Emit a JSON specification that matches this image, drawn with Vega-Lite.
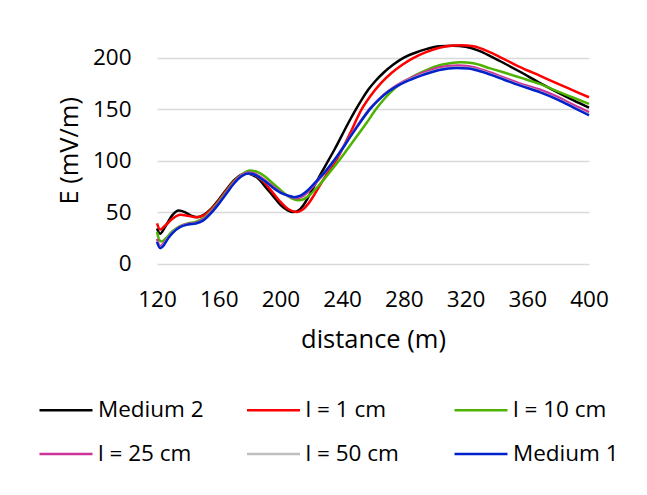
{
  "$schema": "https://vega.github.io/schema/vega-lite/v6.json",
  "autosize": {"type": "none"},
  "padding": {"left": 157, "top": 37, "right": 58, "bottom": 231},
  "width": 432,
  "height": 226.6,
  "background": "white",
  "config": {
    "view": {"stroke": null},
    "font": "Open Sans",
    "axis": {"labelFont": "Open Sans", "titleFont": "Open Sans", "labelColor": "#000000", "titleColor": "#000000", "titleFontWeight": "normal"},
    "legend": {"labelFont": "Open Sans", "labelColor": "#000000"}
  },
  "datasets": {
    "curves": [
      {"s": "Medium 2", "d": 120, "E": 34}, {"s": "Medium 2", "d": 122, "E": 29}, {"s": "Medium 2", "d": 125, "E": 35}, {"s": "Medium 2", "d": 130, "E": 47}, {"s": "Medium 2", "d": 134, "E": 51.5}, {"s": "Medium 2", "d": 138, "E": 50}, {"s": "Medium 2", "d": 142, "E": 46.5}, {"s": "Medium 2", "d": 146, "E": 45}, {"s": "Medium 2", "d": 150, "E": 47}, {"s": "Medium 2", "d": 155, "E": 53}, {"s": "Medium 2", "d": 160, "E": 62}, {"s": "Medium 2", "d": 165, "E": 72}, {"s": "Medium 2", "d": 170, "E": 81}, {"s": "Medium 2", "d": 175, "E": 86.5}, {"s": "Medium 2", "d": 178, "E": 87.5}, {"s": "Medium 2", "d": 182, "E": 86}, {"s": "Medium 2", "d": 186, "E": 82}, {"s": "Medium 2", "d": 190, "E": 75}, {"s": "Medium 2", "d": 195, "E": 66}, {"s": "Medium 2", "d": 200, "E": 57}, {"s": "Medium 2", "d": 205, "E": 51.5}, {"s": "Medium 2", "d": 208, "E": 50}, {"s": "Medium 2", "d": 211, "E": 51}, {"s": "Medium 2", "d": 215, "E": 57}, {"s": "Medium 2", "d": 220, "E": 70}, {"s": "Medium 2", "d": 225, "E": 84}, {"s": "Medium 2", "d": 231, "E": 100}, {"s": "Medium 2", "d": 235.5, "E": 112}, {"s": "Medium 2", "d": 240, "E": 125}, {"s": "Medium 2", "d": 244, "E": 136.5}, {"s": "Medium 2", "d": 249, "E": 150}, {"s": "Medium 2", "d": 253, "E": 160}, {"s": "Medium 2", "d": 257, "E": 169}, {"s": "Medium 2", "d": 262, "E": 178}, {"s": "Medium 2", "d": 267, "E": 185.5}, {"s": "Medium 2", "d": 273, "E": 193}, {"s": "Medium 2", "d": 280, "E": 200}, {"s": "Medium 2", "d": 287, "E": 204.5}, {"s": "Medium 2", "d": 295, "E": 208.5}, {"s": "Medium 2", "d": 303, "E": 211}, {"s": "Medium 2", "d": 312, "E": 211.5}, {"s": "Medium 2", "d": 320, "E": 210.5}, {"s": "Medium 2", "d": 328, "E": 207}, {"s": "Medium 2", "d": 336, "E": 201.5}, {"s": "Medium 2", "d": 345, "E": 194.5}, {"s": "Medium 2", "d": 355, "E": 186.5}, {"s": "Medium 2", "d": 368, "E": 175.5}, {"s": "Medium 2", "d": 380, "E": 166}, {"s": "Medium 2", "d": 390, "E": 158.5}, {"s": "Medium 2", "d": 400, "E": 151.5},

      {"s": "l = 1 cm", "d": 120, "E": 39}, {"s": "l = 1 cm", "d": 122, "E": 33}, {"s": "l = 1 cm", "d": 125, "E": 36.5}, {"s": "l = 1 cm", "d": 130, "E": 43.5}, {"s": "l = 1 cm", "d": 135, "E": 47.5}, {"s": "l = 1 cm", "d": 140, "E": 46.5}, {"s": "l = 1 cm", "d": 145, "E": 45}, {"s": "l = 1 cm", "d": 150, "E": 46.5}, {"s": "l = 1 cm", "d": 155, "E": 52.5}, {"s": "l = 1 cm", "d": 160, "E": 61}, {"s": "l = 1 cm", "d": 165, "E": 71}, {"s": "l = 1 cm", "d": 170, "E": 80}, {"s": "l = 1 cm", "d": 175, "E": 86}, {"s": "l = 1 cm", "d": 178, "E": 87.5}, {"s": "l = 1 cm", "d": 182, "E": 87}, {"s": "l = 1 cm", "d": 186, "E": 83.5}, {"s": "l = 1 cm", "d": 190, "E": 78}, {"s": "l = 1 cm", "d": 195, "E": 69}, {"s": "l = 1 cm", "d": 200, "E": 60}, {"s": "l = 1 cm", "d": 205, "E": 53}, {"s": "l = 1 cm", "d": 210.5, "E": 50}, {"s": "l = 1 cm", "d": 214, "E": 52}, {"s": "l = 1 cm", "d": 218, "E": 58}, {"s": "l = 1 cm", "d": 222, "E": 67}, {"s": "l = 1 cm", "d": 226, "E": 77}, {"s": "l = 1 cm", "d": 231, "E": 89}, {"s": "l = 1 cm", "d": 236, "E": 100}, {"s": "l = 1 cm", "d": 239.7, "E": 110}, {"s": "l = 1 cm", "d": 245, "E": 126}, {"s": "l = 1 cm", "d": 252.7, "E": 150}, {"s": "l = 1 cm", "d": 258, "E": 162}, {"s": "l = 1 cm", "d": 265, "E": 175}, {"s": "l = 1 cm", "d": 272, "E": 185}, {"s": "l = 1 cm", "d": 279, "E": 193}, {"s": "l = 1 cm", "d": 286, "E": 199.5}, {"s": "l = 1 cm", "d": 294, "E": 205}, {"s": "l = 1 cm", "d": 303, "E": 209.5}, {"s": "l = 1 cm", "d": 310, "E": 211.5}, {"s": "l = 1 cm", "d": 317, "E": 212}, {"s": "l = 1 cm", "d": 325, "E": 211}, {"s": "l = 1 cm", "d": 336, "E": 205}, {"s": "l = 1 cm", "d": 345, "E": 198.5}, {"s": "l = 1 cm", "d": 355, "E": 191}, {"s": "l = 1 cm", "d": 368, "E": 182.5}, {"s": "l = 1 cm", "d": 380, "E": 174.5}, {"s": "l = 1 cm", "d": 390, "E": 168}, {"s": "l = 1 cm", "d": 400, "E": 161.5},

      {"s": "l = 10 cm", "d": 120, "E": 31}, {"s": "l = 10 cm", "d": 121.5, "E": 23}, {"s": "l = 10 cm", "d": 123, "E": 21.5}, {"s": "l = 10 cm", "d": 126, "E": 25}, {"s": "l = 10 cm", "d": 130, "E": 31.5}, {"s": "l = 10 cm", "d": 135, "E": 36.5}, {"s": "l = 10 cm", "d": 140, "E": 39}, {"s": "l = 10 cm", "d": 145, "E": 40.5}, {"s": "l = 10 cm", "d": 150, "E": 44}, {"s": "l = 10 cm", "d": 155, "E": 51}, {"s": "l = 10 cm", "d": 160, "E": 60}, {"s": "l = 10 cm", "d": 165, "E": 70}, {"s": "l = 10 cm", "d": 170, "E": 79.5}, {"s": "l = 10 cm", "d": 175, "E": 86.5}, {"s": "l = 10 cm", "d": 180, "E": 90.5}, {"s": "l = 10 cm", "d": 185, "E": 89}, {"s": "l = 10 cm", "d": 190, "E": 84.5}, {"s": "l = 10 cm", "d": 195, "E": 78}, {"s": "l = 10 cm", "d": 200, "E": 71.5}, {"s": "l = 10 cm", "d": 205, "E": 65.5}, {"s": "l = 10 cm", "d": 211.5, "E": 61.5}, {"s": "l = 10 cm", "d": 215, "E": 62.5}, {"s": "l = 10 cm", "d": 220, "E": 68}, {"s": "l = 10 cm", "d": 225, "E": 76}, {"s": "l = 10 cm", "d": 230, "E": 85}, {"s": "l = 10 cm", "d": 238, "E": 100}, {"s": "l = 10 cm", "d": 242.9, "E": 110}, {"s": "l = 10 cm", "d": 250, "E": 124.5}, {"s": "l = 10 cm", "d": 256, "E": 137}, {"s": "l = 10 cm", "d": 262, "E": 150}, {"s": "l = 10 cm", "d": 268, "E": 161}, {"s": "l = 10 cm", "d": 274, "E": 170}, {"s": "l = 10 cm", "d": 280, "E": 176.5}, {"s": "l = 10 cm", "d": 287, "E": 182.5}, {"s": "l = 10 cm", "d": 295, "E": 188}, {"s": "l = 10 cm", "d": 303, "E": 192.5}, {"s": "l = 10 cm", "d": 310, "E": 194.5}, {"s": "l = 10 cm", "d": 317, "E": 195.5}, {"s": "l = 10 cm", "d": 325, "E": 194.5}, {"s": "l = 10 cm", "d": 336, "E": 189.5}, {"s": "l = 10 cm", "d": 345, "E": 185.5}, {"s": "l = 10 cm", "d": 355, "E": 180.8}, {"s": "l = 10 cm", "d": 368, "E": 174.5}, {"s": "l = 10 cm", "d": 380, "E": 167}, {"s": "l = 10 cm", "d": 390, "E": 161}, {"s": "l = 10 cm", "d": 400, "E": 155},

      {"s": "l = 25 cm", "d": 120, "E": 24}, {"s": "l = 25 cm", "d": 122, "E": 17}, {"s": "l = 25 cm", "d": 125, "E": 21}, {"s": "l = 25 cm", "d": 130, "E": 30}, {"s": "l = 25 cm", "d": 135, "E": 36}, {"s": "l = 25 cm", "d": 140, "E": 38.5}, {"s": "l = 25 cm", "d": 145, "E": 39.5}, {"s": "l = 25 cm", "d": 150, "E": 43}, {"s": "l = 25 cm", "d": 155, "E": 50}, {"s": "l = 25 cm", "d": 160, "E": 59}, {"s": "l = 25 cm", "d": 165, "E": 69}, {"s": "l = 25 cm", "d": 170, "E": 79}, {"s": "l = 25 cm", "d": 175, "E": 86}, {"s": "l = 25 cm", "d": 179, "E": 88.5}, {"s": "l = 25 cm", "d": 183, "E": 87.5}, {"s": "l = 25 cm", "d": 187, "E": 84}, {"s": "l = 25 cm", "d": 190, "E": 81}, {"s": "l = 25 cm", "d": 195, "E": 75}, {"s": "l = 25 cm", "d": 200, "E": 69.5}, {"s": "l = 25 cm", "d": 205, "E": 65.5}, {"s": "l = 25 cm", "d": 210, "E": 63.5}, {"s": "l = 25 cm", "d": 214, "E": 65}, {"s": "l = 25 cm", "d": 218, "E": 70}, {"s": "l = 25 cm", "d": 224, "E": 80}, {"s": "l = 25 cm", "d": 230, "E": 90.5}, {"s": "l = 25 cm", "d": 235, "E": 100.5}, {"s": "l = 25 cm", "d": 239.5, "E": 110.5}, {"s": "l = 25 cm", "d": 245, "E": 123}, {"s": "l = 25 cm", "d": 250, "E": 134}, {"s": "l = 25 cm", "d": 258, "E": 150.5}, {"s": "l = 25 cm", "d": 264, "E": 160}, {"s": "l = 25 cm", "d": 270, "E": 167.5}, {"s": "l = 25 cm", "d": 277, "E": 174.5}, {"s": "l = 25 cm", "d": 285, "E": 180.5}, {"s": "l = 25 cm", "d": 293, "E": 185.5}, {"s": "l = 25 cm", "d": 303, "E": 190.5}, {"s": "l = 25 cm", "d": 315, "E": 192.3}, {"s": "l = 25 cm", "d": 322, "E": 191.5}, {"s": "l = 25 cm", "d": 330, "E": 188.5}, {"s": "l = 25 cm", "d": 336, "E": 185.5}, {"s": "l = 25 cm", "d": 345, "E": 180.5}, {"s": "l = 25 cm", "d": 355, "E": 175}, {"s": "l = 25 cm", "d": 368, "E": 169}, {"s": "l = 25 cm", "d": 380, "E": 161.5}, {"s": "l = 25 cm", "d": 390, "E": 154}, {"s": "l = 25 cm", "d": 400, "E": 147},

      {"s": "l = 50 cm", "d": 120, "E": 21.5}, {"s": "l = 50 cm", "d": 122, "E": 15.5}, {"s": "l = 50 cm", "d": 124, "E": 17.5}, {"s": "l = 50 cm", "d": 127, "E": 24.5}, {"s": "l = 50 cm", "d": 130, "E": 30}, {"s": "l = 50 cm", "d": 135, "E": 35.5}, {"s": "l = 50 cm", "d": 140, "E": 38}, {"s": "l = 50 cm", "d": 145, "E": 39}, {"s": "l = 50 cm", "d": 150, "E": 42}, {"s": "l = 50 cm", "d": 155, "E": 49}, {"s": "l = 50 cm", "d": 160, "E": 58}, {"s": "l = 50 cm", "d": 165, "E": 68}, {"s": "l = 50 cm", "d": 170, "E": 78}, {"s": "l = 50 cm", "d": 175, "E": 85}, {"s": "l = 50 cm", "d": 179, "E": 87.5}, {"s": "l = 50 cm", "d": 183, "E": 86.5}, {"s": "l = 50 cm", "d": 187, "E": 83}, {"s": "l = 50 cm", "d": 190, "E": 80}, {"s": "l = 50 cm", "d": 195, "E": 74}, {"s": "l = 50 cm", "d": 200, "E": 69}, {"s": "l = 50 cm", "d": 205, "E": 66}, {"s": "l = 50 cm", "d": 209, "E": 64.5}, {"s": "l = 50 cm", "d": 213, "E": 66}, {"s": "l = 50 cm", "d": 218, "E": 71.5}, {"s": "l = 50 cm", "d": 224, "E": 81}, {"s": "l = 50 cm", "d": 230, "E": 91}, {"s": "l = 50 cm", "d": 235, "E": 100.5}, {"s": "l = 50 cm", "d": 239.5, "E": 110}, {"s": "l = 50 cm", "d": 245, "E": 122.5}, {"s": "l = 50 cm", "d": 250, "E": 133.5}, {"s": "l = 50 cm", "d": 258, "E": 150}, {"s": "l = 50 cm", "d": 264, "E": 159.5}, {"s": "l = 50 cm", "d": 270, "E": 167}, {"s": "l = 50 cm", "d": 277, "E": 173.5}, {"s": "l = 50 cm", "d": 285, "E": 179.5}, {"s": "l = 50 cm", "d": 293, "E": 184}, {"s": "l = 50 cm", "d": 303, "E": 188.5}, {"s": "l = 50 cm", "d": 314, "E": 190.5}, {"s": "l = 50 cm", "d": 322, "E": 190}, {"s": "l = 50 cm", "d": 330, "E": 187}, {"s": "l = 50 cm", "d": 336, "E": 184}, {"s": "l = 50 cm", "d": 345, "E": 179}, {"s": "l = 50 cm", "d": 355, "E": 173.5}, {"s": "l = 50 cm", "d": 368, "E": 167}, {"s": "l = 50 cm", "d": 380, "E": 159.5}, {"s": "l = 50 cm", "d": 390, "E": 152}, {"s": "l = 50 cm", "d": 400, "E": 144.5},

      {"s": "Medium 1", "d": 120, "E": 21}, {"s": "Medium 1", "d": 122, "E": 15}, {"s": "Medium 1", "d": 124, "E": 17}, {"s": "Medium 1", "d": 127, "E": 24}, {"s": "Medium 1", "d": 130, "E": 29.5}, {"s": "Medium 1", "d": 135, "E": 35.5}, {"s": "Medium 1", "d": 140, "E": 38}, {"s": "Medium 1", "d": 145, "E": 39}, {"s": "Medium 1", "d": 150, "E": 42}, {"s": "Medium 1", "d": 155, "E": 49}, {"s": "Medium 1", "d": 160, "E": 58}, {"s": "Medium 1", "d": 165, "E": 68}, {"s": "Medium 1", "d": 170, "E": 78}, {"s": "Medium 1", "d": 175, "E": 85}, {"s": "Medium 1", "d": 179, "E": 87.5}, {"s": "Medium 1", "d": 183, "E": 86.5}, {"s": "Medium 1", "d": 187, "E": 83}, {"s": "Medium 1", "d": 190, "E": 80}, {"s": "Medium 1", "d": 195, "E": 74}, {"s": "Medium 1", "d": 200, "E": 69}, {"s": "Medium 1", "d": 205, "E": 66}, {"s": "Medium 1", "d": 209, "E": 64.5}, {"s": "Medium 1", "d": 213, "E": 66}, {"s": "Medium 1", "d": 218, "E": 71.5}, {"s": "Medium 1", "d": 224, "E": 81}, {"s": "Medium 1", "d": 230, "E": 91}, {"s": "Medium 1", "d": 235, "E": 100.5}, {"s": "Medium 1", "d": 239.5, "E": 110}, {"s": "Medium 1", "d": 245, "E": 122.5}, {"s": "Medium 1", "d": 250, "E": 133.5}, {"s": "Medium 1", "d": 258, "E": 150}, {"s": "Medium 1", "d": 264, "E": 159.5}, {"s": "Medium 1", "d": 270, "E": 167}, {"s": "Medium 1", "d": 277, "E": 173.5}, {"s": "Medium 1", "d": 285, "E": 179}, {"s": "Medium 1", "d": 293, "E": 183.5}, {"s": "Medium 1", "d": 303, "E": 188}, {"s": "Medium 1", "d": 314, "E": 190}, {"s": "Medium 1", "d": 322, "E": 189.5}, {"s": "Medium 1", "d": 330, "E": 186.5}, {"s": "Medium 1", "d": 336, "E": 183.5}, {"s": "Medium 1", "d": 345, "E": 178.5}, {"s": "Medium 1", "d": 355, "E": 173}, {"s": "Medium 1", "d": 368, "E": 166.5}, {"s": "Medium 1", "d": 380, "E": 159}, {"s": "Medium 1", "d": 390, "E": 151.5}, {"s": "Medium 1", "d": 400, "E": 144}
    ]
  },
  "data": {"name": "curves"},
  "mark": {"type": "line", "interpolate": "monotone", "strokeWidth": 2.5, "clip": false},
  "encoding": {
    "x": {
      "field": "d", "type": "quantitative",
      "scale": {"domain": [120, 400], "nice": false, "zero": false},
      "axis": {
        "values": [120, 160, 200, 240, 280, 320, 360, 400],
        "title": "distance (m)", "titleFontSize": 25.5, "titlePadding": 16,
        "labelFontSize": 22.5, "labelPadding": 25, "ticks": false,
        "domain": false, "grid": false, "labelFlush": false
      }
    },
    "y": {
      "field": "E", "type": "quantitative",
      "scale": {"domain": [0, 220], "nice": false},
      "axis": {
        "values": [0, 50, 100, 150, 200],
        "title": "E (mV/m)", "titleFontSize": 25.5, "titlePadding": 10,
        "labelFontSize": 22.5, "labelPadding": 26, "ticks": false,
        "domain": false, "grid": true, "gridColor": "#D9D9D9", "gridWidth": 1.5
      }
    },
    "color": {
      "field": "s", "type": "nominal",
      "scale": {
        "domain": ["Medium 2", "l = 1 cm", "l = 10 cm", "l = 25 cm", "l = 50 cm", "Medium 1"],
        "range": ["#000000", "#FF0000", "#4DB300", "#CC3399", "#BFBFBF", "#0022CC"]
      },
      "legend": {
        "title": null, "orient": "none", "legendX": -119, "legendY": 345,
        "direction": "horizontal", "columns": 3, "gridAlign": "all",
        "columnPadding": 37.5, "rowPadding": 4, "padding": 0,
        "symbolType": "stroke", "symbolSize": 2809, "symbolStrokeWidth": 2.5,
        "labelFontSize": 22.5, "labelOffset": 4
      }
    },
    "order": {"field": "d", "type": "quantitative"}
  }
}
